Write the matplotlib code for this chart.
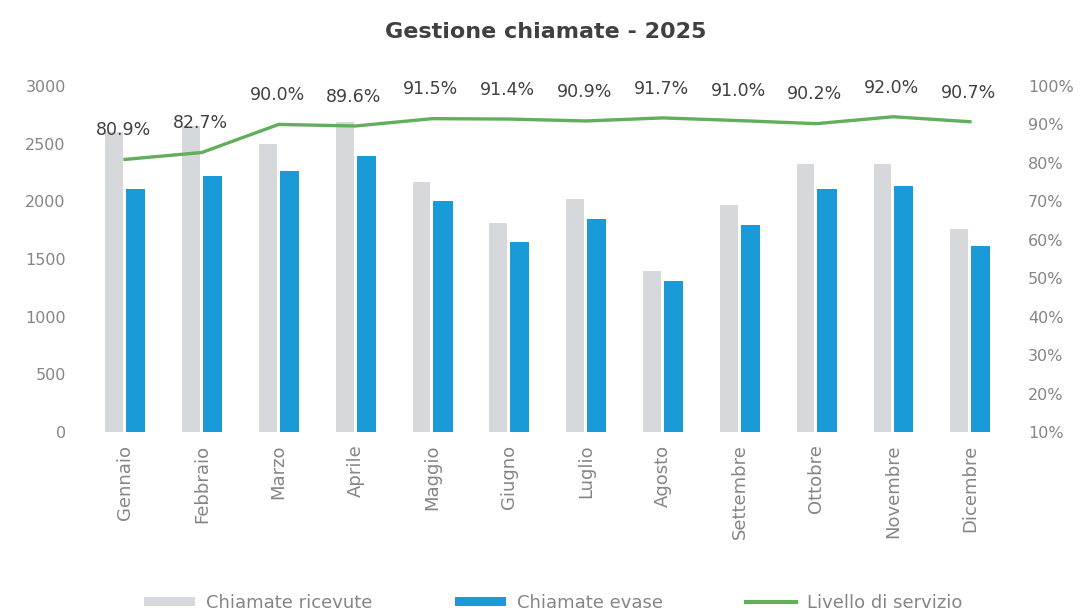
"""
Gestione chiamate 2025: chiamate ricevute/evase per mese e livello di servizio.
"""

import matplotlib

matplotlib.use("Agg")
import matplotlib.pyplot as plt
import numpy as np
from matplotlib.lines import Line2D
from matplotlib.patches import Patch

mesi = [
    "Gennaio", "Febbraio", "Marzo", "Aprile", "Maggio", "Giugno",
    "Luglio", "Agosto", "Settembre", "Ottobre", "Novembre", "Dicembre",
]
chiamate_ricevute = [2600, 2650, 2500, 2690, 2170, 1810, 2020, 1400, 1970, 2320, 2320, 1760]
chiamate_evase = [2105, 2220, 2260, 2390, 2000, 1645, 1845, 1305, 1795, 2105, 2135, 1610]
livello_servizio = [80.9, 82.7, 90.0, 89.6, 91.5, 91.4, 90.9, 91.7, 91.0, 90.2, 92.0, 90.7]

left_ticks = [0, 500, 1000, 1500, 2000, 2500, 3000]
right_ticks = list(range(10, 101, 10))

GRAY = "#d6d8db"
BLUE = "#1b9ad8"
GREEN = "#62ae5c"
TEXT_DARK = "#404040"
TEXT_LIGHT = "#858585"

fig = plt.figure(figsize=(10.81, 6.12), dpi=100)
ax = fig.add_axes([0.0801, 0.2941, 0.8527, 0.5654])

x = np.arange(len(mesi))
ax.bar(x - 0.14, chiamate_ricevute, width=0.23, color=GRAY, zorder=2)
ax.bar(x + 0.14, chiamate_evase, width=0.25, color=BLUE, zorder=3)

ax.set_xlim(-0.5, len(mesi) - 0.5)
ax.set_ylim(0, 3000)
ax.set_yticks(left_ticks)
ax.set_yticklabels([str(v) for v in left_ticks])
ax.set_xticks(x)
ax.set_xticklabels(mesi, rotation=90, va="top", ha="center")
ax.tick_params(axis="x", length=0, pad=9, labelsize=13, labelcolor=TEXT_LIGHT)
ax.tick_params(axis="y", length=0, pad=15, labelsize=11.5, labelcolor=TEXT_LIGHT)
for s in ax.spines.values():
    s.set_visible(False)

# livello di servizio sull'asse destro
ax2 = ax.twinx()
ax2.plot(x, livello_servizio, color=GREEN, linewidth=2.4, zorder=4)
ax2.set_ylim(10, 100)
ax2.set_yticks(right_ticks)
ax2.set_yticklabels([f"{v}%" for v in right_ticks])
ax2.tick_params(axis="y", length=0, pad=14, labelsize=11.5, labelcolor=TEXT_LIGHT)
for s in ax2.spines.values():
    s.set_visible(False)

for xi, v in zip(x, livello_servizio):
    ax2.annotate(
        f"{v:.1f}%", (xi, v), xytext=(-1, 21), textcoords="offset points",
        ha="center", va="center", fontsize=12.5, color=TEXT_DARK,
    )

fig.text(0.505, 0.948, "Gestione chiamate - 2025", ha="center", va="center",
         fontsize=16, fontweight="bold", color=TEXT_DARK)

handles = [
    Patch(facecolor=GRAY, edgecolor="none"),
    Patch(facecolor=BLUE, edgecolor="none"),
    Line2D([0], [0], color=GREEN, linewidth=3),
]
labels = ["Chiamate ricevute", "Chiamate evase", "Livello di servizio"]
fig.legend(
    handles, labels, loc="center", bbox_to_anchor=(0.512, 0.015), ncol=3,
    frameon=False, fontsize=13, handlelength=2.8, handleheight=0.45,
    handletextpad=0.6, columnspacing=4.6, labelcolor=TEXT_LIGHT,
)

fig.savefig("out.png", dpi=100)
